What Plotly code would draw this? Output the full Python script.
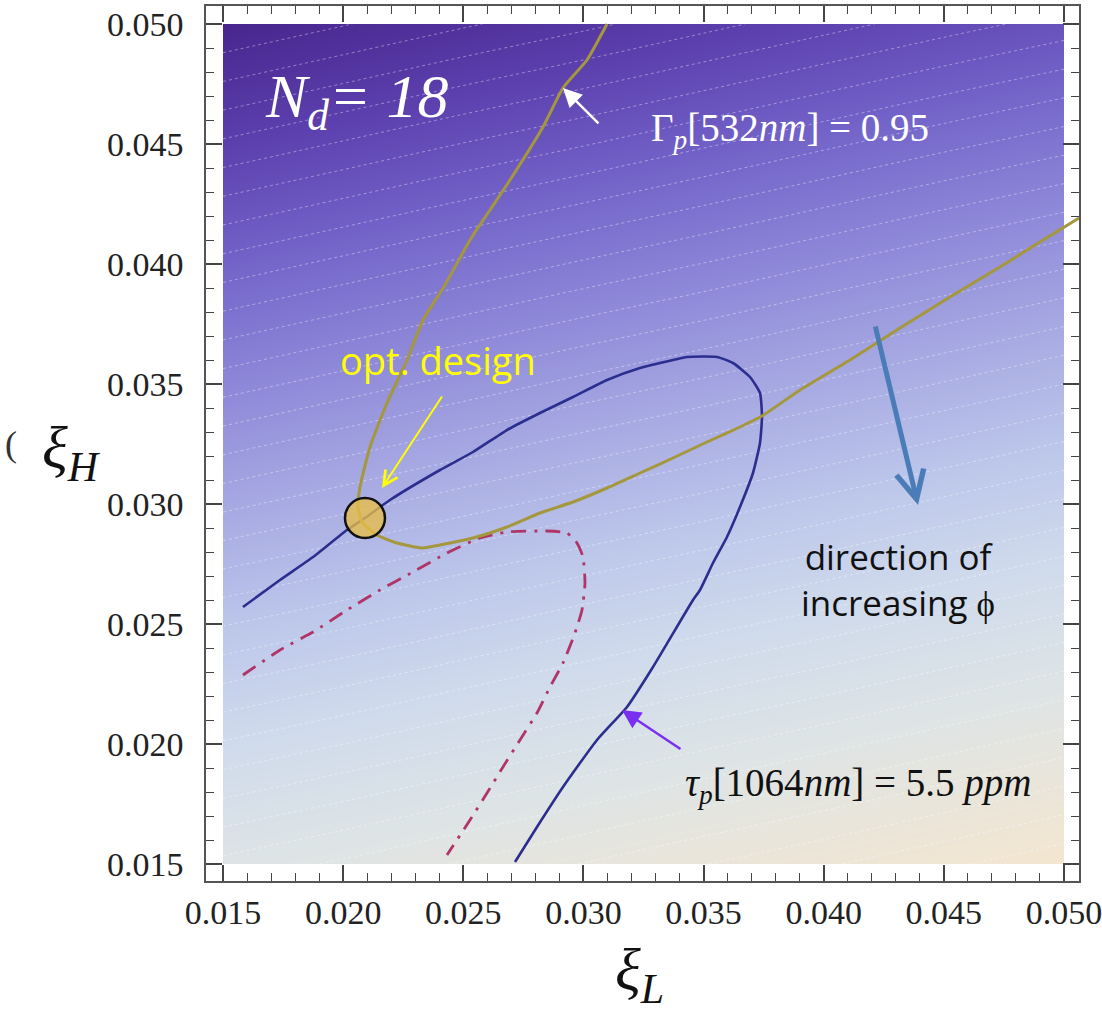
import plotly.graph_objects as go

# ---------------- data ----------------
grid_x = [0.015, 0.020, 0.025, 0.030, 0.035, 0.040, 0.045, 0.050]
grid_y = [0.015, 0.020, 0.025, 0.030, 0.035, 0.040, 0.045, 0.050]
# background shading level (phi), rows follow grid_y, columns follow grid_x
phi_level = [
    [82.0, 84.5, 87.1, 89.7, 92.3, 94.8, 97.4, 100.0],
    [70.3, 72.8, 75.4, 78.0, 80.6, 83.1, 85.7, 88.3],
    [58.6, 61.1, 63.7, 66.3, 68.9, 71.4, 74.0, 76.6],
    [46.8, 49.4, 52.0, 54.6, 57.1, 59.7, 62.3, 64.9],
    [35.1, 37.7, 40.3, 42.9, 45.4, 48.0, 50.6, 53.2],
    [23.4, 26.0, 28.6, 31.2, 33.7, 36.3, 38.9, 41.5],
    [11.7, 14.3, 16.9, 19.4, 22.0, 24.6, 27.2, 29.7],
    [0.0, 2.6, 5.2, 7.7, 10.3, 12.9, 15.5, 18.0],
]

# tau_p[1064nm] = 5.5 ppm contour
tau_x = [0.015832, 0.017372, 0.018745, 0.020160, 0.020909, 0.021950, 0.024031, 0.025404,
         0.026819, 0.028192, 0.029566, 0.030981, 0.032354, 0.033727, 0.034310, 0.035558,
         0.036224, 0.036932, 0.037348, 0.037431, 0.037348, 0.037056, 0.036515, 0.035974,
         0.035392, 0.034851, 0.034560, 0.032895, 0.031813, 0.030564, 0.029149, 0.028067,
         0.027152]
tau_y = [0.025708, 0.026833, 0.027792, 0.028917, 0.029417, 0.030167, 0.031417, 0.032167,
         0.033083, 0.033792, 0.034458, 0.035167, 0.035667, 0.036000, 0.036125, 0.036125,
         0.035875, 0.035292, 0.034625, 0.033625, 0.032542, 0.031292, 0.029875, 0.028625,
         0.027542, 0.026417, 0.026000, 0.023208, 0.021542, 0.020167, 0.018208, 0.016542,
         0.015083]

# Gamma_p[532nm] = 0.95 contour
gamma_x = [0.030981, 0.030148, 0.029149, 0.028317, 0.026944, 0.026111, 0.025279, 0.024239,
           0.023323, 0.022657, 0.021825, 0.021118, 0.020701, 0.020618, 0.020785, 0.021409,
           0.022241, 0.023323, 0.024031, 0.025404, 0.026819, 0.028192, 0.029566, 0.030981,
           0.032354, 0.033727, 0.035142, 0.036515, 0.037431, 0.039012, 0.041093, 0.043174,
           0.045254, 0.047335, 0.049000, 0.050623]
gamma_y = [0.050000, 0.048500, 0.047333, 0.045708, 0.043500, 0.042250, 0.041000, 0.039125,
           0.037667, 0.036000, 0.034208, 0.032375, 0.030708, 0.029875, 0.029250, 0.028708,
           0.028375, 0.028167, 0.028292, 0.028583, 0.029042, 0.029625, 0.030083, 0.030667,
           0.031292, 0.031917, 0.032583, 0.033208, 0.033667, 0.034750, 0.036000, 0.037333,
           0.038625, 0.039875, 0.040917, 0.041917]

# dash-dot contour
red_x = [0.015832, 0.017372, 0.018745, 0.020160, 0.021534, 0.022907, 0.024322, 0.025695,
         0.026819, 0.028484, 0.029316, 0.029732, 0.029982, 0.030065, 0.029940, 0.029649,
         0.029149, 0.028608, 0.028067, 0.027360, 0.026652, 0.025987, 0.025279, 0.024322]
red_y = [0.022875, 0.023917, 0.024667, 0.025583, 0.026417, 0.027167, 0.027958, 0.028583,
         0.028833, 0.028875, 0.028792, 0.028375, 0.027792, 0.026708, 0.025583, 0.024625,
         0.023375, 0.022375, 0.021292, 0.020167, 0.019042, 0.017958, 0.016833, 0.015375]

# optimal design point
opt_x = [0.020909]
opt_y = [0.029417]

tick_vals = [0.015, 0.020, 0.025, 0.030, 0.035, 0.040, 0.045, 0.050]
tick_text = ["0.015", "0.020", "0.025", "0.030", "0.035", "0.040", "0.045", "0.050"]

# ---------------- figure ----------------
colorscale = [
    [0.00, "#48268e"],
    [0.12, "#5c40ae"],
    [0.23, "#7262c8"],
    [0.35, "#8c86d8"],
    [0.47, "#a6a8e2"],
    [0.59, "#bcc6ea"],
    [0.70, "#cfdaec"],
    [0.82, "#dde4e6"],
    [1.00, "#f4e6d0"],
]

fig = go.Figure()
fig.add_trace(go.Contour(
    x=grid_x, y=grid_y, z=phi_level,
    colorscale=colorscale, showscale=False, zmin=0, zmax=100,
    contours=dict(coloring="heatmap", start=0, end=100, size=2.8, showlines=True),
    line=dict(color="rgba(255,255,255,0.38)", width=1, dash="dot"),
    hoverinfo="skip",
))
fig.add_trace(go.Scatter(x=red_x, y=red_y, mode="lines",
                         line=dict(color="#b03468", width=2.8, dash="15px,8px,3px,8px", shape="spline", smoothing=0.5)))
fig.add_trace(go.Scatter(x=tau_x, y=tau_y, mode="lines",
                         line=dict(color="#2b2e8e", width=2.6, shape="spline", smoothing=0.5)))
fig.add_trace(go.Scatter(x=gamma_x, y=gamma_y, mode="lines",
                         line=dict(color="#a4973c", width=3, shape="spline", smoothing=0.5)))
fig.add_trace(go.Scatter(x=opt_x, y=opt_y, mode="markers",
                         marker=dict(size=40, color="rgba(232,190,72,0.78)",
                                     line=dict(color="#111111", width=2.5))))

serif = "Liberation Serif"
axis_common = dict(
    showgrid=False, zeroline=False, showline=True, mirror="ticks",
    linecolor="#555555", linewidth=1.5, automargin=False,
    ticks="inside", ticklen=16, tickwidth=1.5, tickcolor="#444444",
    tickvals=tick_vals, ticktext=tick_text,
    tickfont=dict(family=serif, size=34, color="#222222"),
    ticklabeloverflow="allow",
    minor=dict(ticks="inside", ticklen=8, tickwidth=1.2, tickcolor="#444444",
               dtick=0.001, tick0=0.015, showgrid=False),
)
fig.update_xaxes(range=[0.014293, 0.050624], ticklabelstandoff=0, **axis_common)
fig.update_yaxes(range=[0.014292, 0.05075], ticklabelstandoff=14, **axis_common)

annotations = [
    dict(x=0.020576, y=0.046833, xref="x", yref="y", showarrow=False,
         text="<i>N</i><sub><i>d</i></sub><i>= 18</i>",
         font=dict(family=serif, size=62, color="white")),
    dict(x=0.038596, y=0.045583, xref="x", yref="y", showarrow=False,
         text="Γ<sub><i>p</i></sub>[532<i>nm</i>] = 0.95",
         font=dict(family=serif, size=39, color="white")),
    dict(x=0.041426, y=0.018292, xref="x", yref="y", showarrow=False,
         text="<i>τ</i><sub><i>p</i></sub>[1064<i>nm</i>] = 5.5 <i>ppm</i>",
         font=dict(family=serif, size=39, color="#111111")),
    dict(x=0.023947, y=0.036, xref="x", yref="y", showarrow=False,
         text="opt. design",
         font=dict(family="Open Sans", size=38, color="#ffff00")),
    dict(x=0.04309, y=0.026875, xref="x", yref="y", showarrow=False,
         text="direction of<br>increasing ϕ",
         font=dict(family="Open Sans", size=35, color="#111111")),
    # arrows
    dict(x=0.029149, y=0.047333, ax=0.030689, ay=0.045792, xref="x", yref="y",
         axref="x", ayref="y", showarrow=True, arrowhead=2, arrowsize=1.5,
         arrowwidth=2.5, arrowcolor="white", text=""),
    dict(x=0.021617, y=0.030667, ax=0.024155, ay=0.034542, xref="x", yref="y",
         axref="x", ayref="y", showarrow=True, arrowhead=5, arrowsize=1.4,
         arrowwidth=2, arrowcolor="#ffff00", text=""),
    dict(x=0.031605, y=0.021417, ax=0.034101, ay=0.01975, xref="x", yref="y",
         axref="x", ayref="y", showarrow=True, arrowhead=2, arrowsize=1.5,
         arrowwidth=2.5, arrowcolor="#7a2ff0", text=""),
    dict(x=0.043923, y=0.029958, ax=0.042134, ay=0.037458, xref="x", yref="y",
         axref="x", ayref="y", showarrow=True, arrowhead=5, arrowsize=1.1,
         arrowwidth=5, arrowcolor="#4a7db8", text=""),
    # axis titles
    dict(x=0.497, y=-0.152, xref="paper", yref="paper", showarrow=False,
         text="<i>ξ</i><sub><i>L</i></sub>",
         font=dict(family=serif, size=60, color="#111111")),
    dict(x=-0.19, y=0.49, xref="paper", yref="paper", showarrow=False,
         text="<i>ξ</i><sub><i>H</i></sub>",
         font=dict(family=serif, size=60, color="#111111")),
    dict(x=-0.232, y=0.50, xref="paper", yref="paper", showarrow=False,
         text="(", font=dict(family=serif, size=36, color="#333333")),
]

fig.update_layout(
    width=1102, height=1013,
    margin=dict(l=206, r=23, t=6, b=132, autoexpand=False),
    paper_bgcolor="white", plot_bgcolor="white",
    showlegend=False,
    annotations=annotations,
)

fig.write_html("out.html")
